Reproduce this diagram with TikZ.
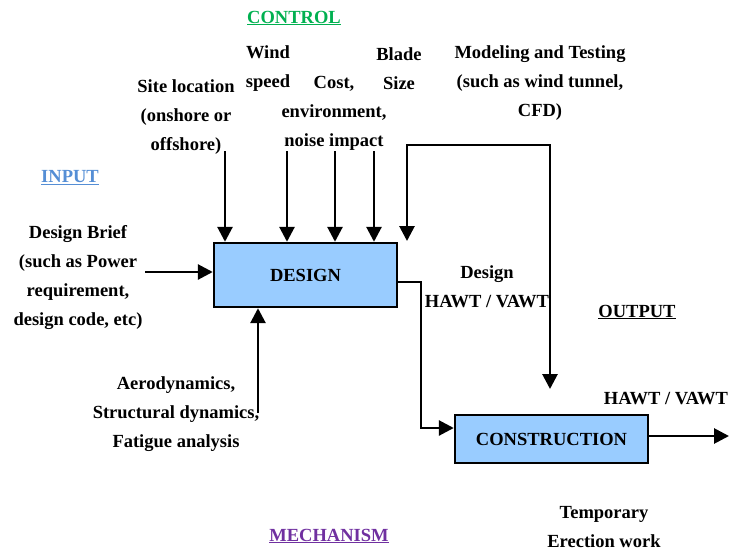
\documentclass[tikz,border=0pt]{standalone}
\usepackage{fontspec}
\setmainfont{Liberation Serif}
\usetikzlibrary{arrows.meta}
\definecolor{boxblue}{HTML}{99CCFF}
\definecolor{ctrlgreen}{HTML}{00B050}
\definecolor{inpblue}{HTML}{558ED5}
\definecolor{mechpurple}{HTML}{7030A0}
\begin{document}
\begin{tikzpicture}[x=1pt,y=-1pt,
  every node/.style={font=\fontsize{18.5}{29}\selectfont\bfseries},
  lbl/.style={align=center,inner sep=0pt},
  procbox/.style={draw=black,line width=2.4pt,fill=boxblue,inner sep=0pt},
  tip/.tip={Triangle[length=15pt,width=15pt]},
  arr/.style={line width=2.8pt,-tip},
  darr/.style={line width=2.8pt,tip-tip}]
\useasboundingbox (0,0) rectangle (729,552);

% process boxes
\node[procbox,minimum width=183pt,minimum height=64pt] (design) at (305.5,275) {DESIGN};
\node[procbox,minimum width=193pt,minimum height=48pt] (construction) at (551.5,439) {CONSTRUCTION};

% section headings
\node[lbl,text=ctrlgreen] (hcontrol) at (294,18) {\underline{CONTROL}};
\node[lbl,text=inpblue] (hinput) at (70,178) {\underline{INPUT}};
\node[lbl] (houtput) at (637,312) {\underline{OUTPUT}};
\node[lbl,text=mechpurple] (hmech) at (329,536) {\underline{MECHANISM}};

% control labels
\node[lbl] (tsite) at (186,117) {Site location\\(onshore or\\offshore)};
\node[lbl] (twind) at (268,69) {Wind\\speed};
\node[lbl] (tcost) at (334,113) {Cost,\\environment,\\noise impact};
\node[lbl] (tblade) at (399,69) {Blade\\Size};
\node[lbl] (tmodel) at (540,83) {Modeling and Testing\\(such as wind tunnel,\\CFD)};

% input, mechanism and output labels
\node[lbl] (tbrief) at (78,278) {Design Brief\\(such as Power\\requirement,\\design code, etc)};
\node[lbl] (taero) at (176,414) {Aerodynamics,\\Structural dynamics,\\Fatigue analysis};
\node[lbl] (tdesout) at (487,287) {Design\\HAWT / VAWT};
\node[lbl] (tfinal) at (666,399) {HAWT / VAWT};
\node[lbl] (ttemp) at (604,527) {Temporary\\Erection work};

% control arrows into DESIGN
\coordinate (c1) at (225,151);
\coordinate (c2) at (287,151);
\coordinate (c3) at (335,151);
\coordinate (c4) at (374,151);
\foreach \c in {c1,c2,c3,c4} \draw[arr] (\c) -- (\c |- design.north);

% modelling and testing feedback loop
\coordinate (fbA) at (407,241);
\coordinate (fbB) at (407,145);
\coordinate (fbC) at (550,145);
\coordinate (fbD) at (550,389);
\draw[darr] (fbA) -- (fbB) -- (fbC) -- (fbD);

% input arrow
\coordinate (inp) at (145,272);
\draw[arr] (inp) -- (inp -| design.west);

% mechanism arrow
\coordinate (mech) at (258,413);
\draw[arr] (mech) -- (mech |- design.south);

% design to construction
\coordinate (d1) at (421,282);
\coordinate (d2) at (421,428);
\draw[arr] (d1 -| design.east) -- (d1) -- (d2) -- (d2 -| construction.west);

% final output
\coordinate (outend) at (729,436);
\draw[arr] (outend -| construction.east) -- (outend);
\end{tikzpicture}
\end{document}
